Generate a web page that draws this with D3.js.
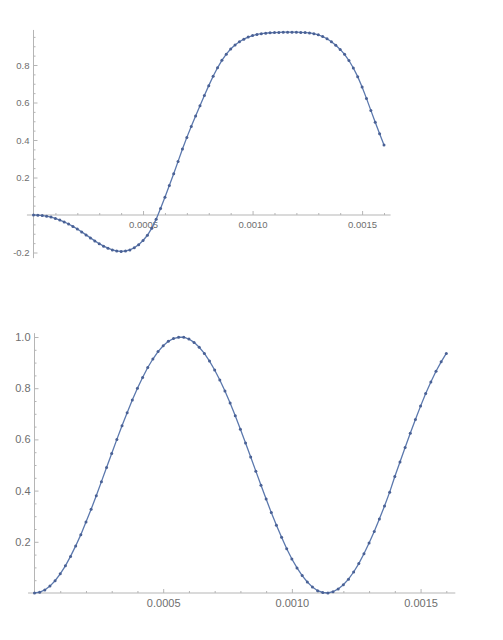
<!DOCTYPE html>
<html>
<head>
<meta charset="utf-8">
<script src="https://d3js.org/d3.v7.min.js"></script>
<style>
  body { margin: 0; background: #fff; }
  .tick text { font-family: "Liberation Sans", Arial, sans-serif; fill: #6e6e6e; }
</style>
</head>
<body>
<div id="chart"></div>
<script>
// sample times (s)
const timeSteps = [
    0, 0.00002, 0.00004, 0.00006, 0.00008, 0.0001, 0.00012, 0.00014, 0.00016, 0.00018,
    0.0002, 0.00022, 0.00024, 0.00026, 0.00028, 0.0003, 0.00032, 0.00034, 0.00036, 0.00038,
    0.0004, 0.00042, 0.00044, 0.00046, 0.00048, 0.0005, 0.00052, 0.00054, 0.00056, 0.00058,
    0.0006, 0.00062, 0.00064, 0.00066, 0.00068, 0.0007, 0.00072, 0.00074, 0.00076, 0.00078,
    0.0008, 0.00082, 0.00084, 0.00086, 0.00088, 0.0009, 0.00092, 0.00094, 0.00096, 0.00098,
    0.001, 0.00102, 0.00104, 0.00106, 0.00108, 0.0011, 0.00112, 0.00114, 0.00116, 0.00118,
    0.0012, 0.00122, 0.00124, 0.00126, 0.00128, 0.0013, 0.00132, 0.00134, 0.00136, 0.00138,
    0.0014, 0.00142, 0.00144, 0.00146, 0.00148, 0.0015, 0.00152, 0.00154, 0.00156, 0.00158,
    0.0016
];

// upper panel
const topValues = [
    0.000, -0.001, -0.003, -0.006, -0.011, -0.018, -0.027, -0.037, -0.048, -0.061,
    -0.075, -0.090, -0.106, -0.122, -0.138, -0.153, -0.166, -0.177, -0.186, -0.192,
    -0.194, -0.192, -0.186, -0.175, -0.158, -0.136, -0.108, -0.070, -0.022, 0.035,
    0.095, 0.157, 0.220, 0.286, 0.352, 0.414, 0.472, 0.528, 0.583, 0.637,
    0.690, 0.740, 0.785, 0.825, 0.858, 0.885, 0.907, 0.924, 0.938, 0.949,
    0.957, 0.963, 0.967, 0.970, 0.972, 0.973, 0.974, 0.975, 0.975, 0.975,
    0.975, 0.974, 0.973, 0.971, 0.967, 0.961, 0.952, 0.940, 0.924, 0.905,
    0.883, 0.857, 0.824, 0.784, 0.738, 0.683, 0.622, 0.558, 0.495, 0.433,
    0.373
];

// lower panel
const bottomValues = [
    0.000, 0.003, 0.012, 0.027, 0.048, 0.075, 0.106, 0.143, 0.184, 0.228,
    0.277, 0.327, 0.380, 0.435, 0.490, 0.545, 0.600, 0.653, 0.704, 0.754,
    0.800, 0.842, 0.881, 0.914, 0.943, 0.966, 0.983, 0.994, 0.999, 0.999,
    0.992, 0.979, 0.960, 0.936, 0.906, 0.871, 0.832, 0.789, 0.742, 0.692,
    0.640, 0.586, 0.531, 0.476, 0.421, 0.367, 0.314, 0.265, 0.218, 0.173,
    0.133, 0.098, 0.068, 0.043, 0.023, 0.009, 0.002, 0.000, 0.005, 0.016,
    0.032, 0.054, 0.082, 0.115, 0.153, 0.195, 0.240, 0.289, 0.340, 0.394,
    0.455, 0.512, 0.568, 0.624, 0.678, 0.730, 0.779, 0.824, 0.866, 0.903,
    0.936
];

const xTickValues = [0.0005, 0.0010, 0.0015];
const xTickLabels = ["0.0005", "0.0010", "0.0015"];
const topYTicks = [-0.2, 0.2, 0.4, 0.6, 0.8];
const topYLabels = ["-0.2", "0.2", "0.4", "0.6", "0.8"];
const bottomYTicks = [0.2, 0.4, 0.6, 0.8, 1.0];
const bottomYLabels = ["0.2", "0.4", "0.6", "0.8", "1.0"];

const lineColor = "#5b78ad";
const dotColor = "#4a6195";
const axisColor = "#b5b5b5";

const svg = d3.select("#chart")
    .append("svg")
    .attr("width", 503)
    .attr("height", 640);

function drawPanel(p) {
    const g = svg.append("g");

    const x = d3.scaleLinear()
        .domain([0, 0.0016])
        .range(p.xRange);
    const y = d3.scaleLinear()
        .domain([0, 1])
        .range(p.yRange);

    // axis lines (Mathematica style: cross at origin)
    g.append("line")
        .attr("x1", x(p.xExtent[0])).attr("x2", x(p.xExtent[1]))
        .attr("y1", y(0)).attr("y2", y(0))
        .attr("stroke", axisColor);
    g.append("line")
        .attr("x1", x(0)).attr("x2", x(0))
        .attr("y1", y(p.yExtent[0])).attr("y2", y(p.yExtent[1]))
        .attr("stroke", axisColor);

    // minor ticks
    const xMinor = d3.range(0.0001, p.xExtent[1], 0.0001).filter(function(v) {
        return Math.abs(v / 0.0005 - Math.round(v / 0.0005)) > 1e-6;
    });
    g.append("g")
        .attr("transform", "translate(0," + y(0) + ")")
        .call(d3.axisBottom(x).tickValues(xMinor).tickSize(-2).tickFormat(""))
        .call(function(a) { a.select(".domain").remove(); })
        .selectAll("line").attr("stroke", axisColor);

    const yMinor = d3.range(-0.2, p.yExtent[1], 0.05).filter(function(v) {
        return v >= p.yExtent[0] && Math.abs(v / 0.2 - Math.round(v / 0.2)) > 1e-6;
    });
    g.append("g")
        .attr("transform", "translate(" + x(0) + ",0)")
        .call(d3.axisLeft(y).tickValues(yMinor).tickSize(-2).tickFormat(""))
        .call(function(a) { a.select(".domain").remove(); })
        .selectAll("line").attr("stroke", axisColor);

    // major ticks + labels
    const xAxis = g.append("g")
        .attr("transform", "translate(0," + y(0) + ")")
        .call(d3.axisBottom(x)
            .tickValues(xTickValues)
            .tickSize(-4)
            .tickPadding(p.xPad)
            .tickFormat(function(d, i) { return xTickLabels[i]; }));
    xAxis.select(".domain").remove();
    xAxis.selectAll("line").attr("stroke", axisColor);
    xAxis.selectAll("text").style("font-size", p.fontSize + "px");

    const yAxis = g.append("g")
        .attr("transform", "translate(" + x(0) + ",0)")
        .call(d3.axisLeft(y)
            .tickValues(p.yTicks)
            .tickSize(-4)
            .tickPadding(4)
            .tickFormat(function(d, i) { return p.yLabels[i]; }));
    yAxis.select(".domain").remove();
    yAxis.selectAll("line").attr("stroke", axisColor);
    yAxis.selectAll("text").style("font-size", p.fontSize + "px");

    // joined line
    const line = d3.line()
        .x(function(d, i) { return x(timeSteps[i]); })
        .y(function(d) { return y(d); });

    g.append("path")
        .datum(p.values)
        .attr("d", line)
        .attr("fill", "none")
        .attr("stroke", lineColor)
        .attr("stroke-width", 1.3);

    // points
    g.selectAll("circle")
        .data(p.values)
        .enter()
        .append("circle")
        .attr("cx", function(d, i) { return x(timeSteps[i]); })
        .attr("cy", function(d) { return y(d); })
        .attr("r", 1.5)
        .attr("fill", dotColor);
}

drawPanel({
    values: topValues,
    xRange: [33.5, 384],
    yRange: [215, 27.5],
    xExtent: [-0.00003, 0.00163],
    yExtent: [-0.23, 0.987],
    yTicks: topYTicks,
    yLabels: topYLabels,
    fontSize: 9.5,
    xPad: 6
});

drawPanel({
    values: bottomValues,
    xRange: [34.5, 446.3],
    yRange: [593, 337],
    xExtent: [-0.000025, 0.001635],
    yExtent: [0, 1.015],
    yTicks: bottomYTicks,
    yLabels: bottomYLabels,
    fontSize: 11,
    xPad: 6
});
</script>
</body>
</html>
